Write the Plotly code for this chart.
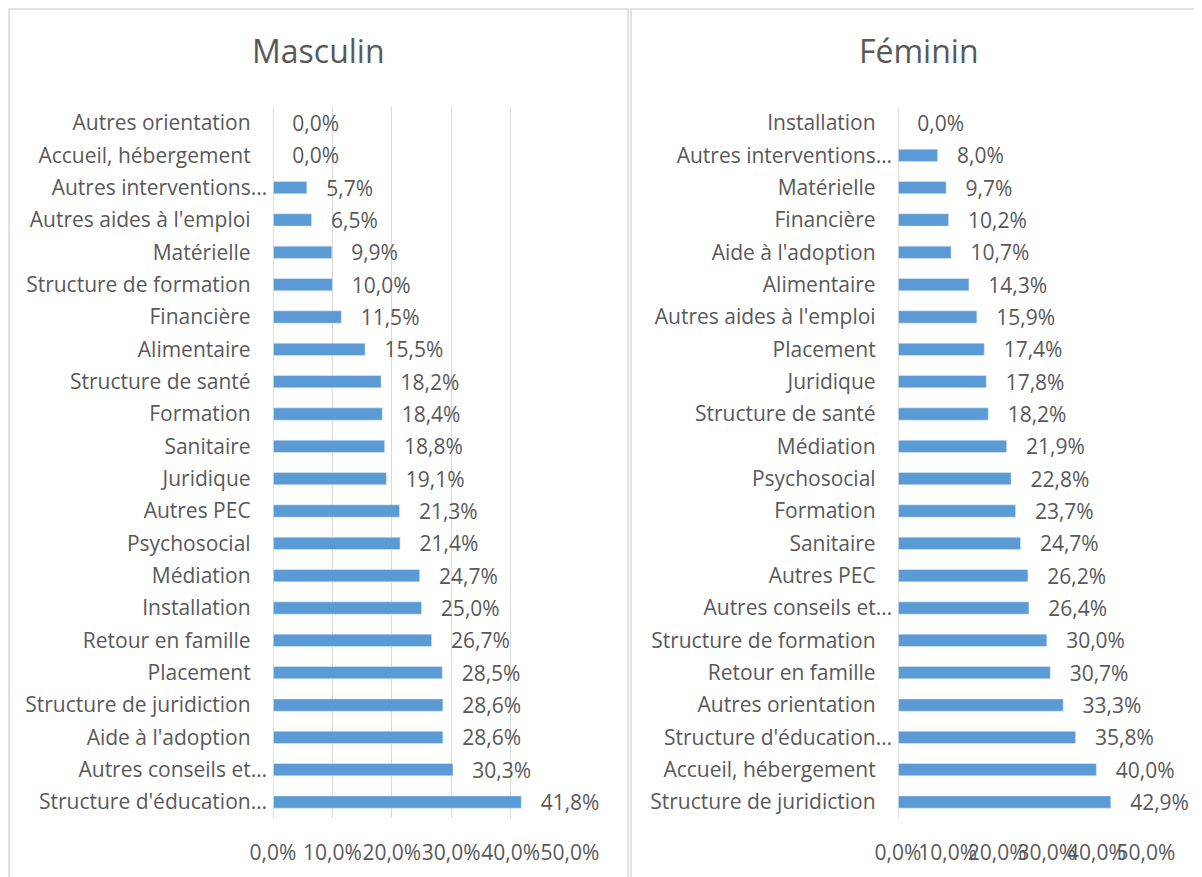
import plotly.graph_objects as go

# Masculin (top to bottom)
cat_m = ["Autres orientation", "Accueil, hébergement", "Autres interventions…",
         "Autres aides à l'emploi", "Matérielle", "Structure de formation",
         "Financière", "Alimentaire", "Structure de santé", "Formation",
         "Sanitaire", "Juridique", "Autres PEC", "Psychosocial", "Médiation",
         "Installation", "Retour en famille", "Placement",
         "Structure de juridiction", "Aide à l'adoption", "Autres conseils et…",
         "Structure d'éducation…"]
val_m = [0.0, 0.0, 5.7, 6.5, 9.9, 10.0, 11.5, 15.5, 18.2, 18.4, 18.8, 19.1,
         21.3, 21.4, 24.7, 25.0, 26.7, 28.5, 28.6, 28.6, 30.3, 41.8]

# Féminin (top to bottom)
cat_f = ["Installation", "Autres interventions…", "Matérielle", "Financière",
         "Aide à l'adoption", "Alimentaire", "Autres aides à l'emploi",
         "Placement", "Juridique", "Structure de santé", "Médiation",
         "Psychosocial", "Formation", "Sanitaire", "Autres PEC",
         "Autres conseils et…", "Structure de formation", "Retour en famille",
         "Autres orientation", "Structure d'éducation…", "Accueil, hébergement",
         "Structure de juridiction"]
val_f = [0.0, 8.0, 9.7, 10.2, 10.7, 14.3, 15.9, 17.4, 17.8, 18.2, 21.9, 22.8,
         23.7, 24.7, 26.2, 26.4, 30.0, 30.7, 33.3, 35.8, 40.0, 42.9]

x_ticks = [0, 10, 20, 30, 40, 50]

# page body has an 8px margin, so the figure is shifted by 8px
OFF = 8
W, H = 1202 - OFF, 877 - OFF
BAR = "#5B9BD5"
TXT = "#595959"
GRID = "#D9D9D9"
FONT = "Open Sans"
FS = 21


def px(x):
    return (x - OFF) / W


def py(y):
    return (H - (y - OFF)) / H


def fmt(v):
    return f"{v:.1f}%".replace(".", ",")


def ylabel(c):
    # truncated labels sit closer to the axis, like in Excel
    return c if c.endswith("…") else c + "\u00a0\u00a0\u00a0"


fig = go.Figure()
for cats, vals, xa, ya in [(cat_m, val_m, "x", "y"), (cat_f, val_f, "x2", "y2")]:
    fig.add_trace(go.Bar(
        x=[v / 100 for v in vals], y=cats, orientation="h",
        marker_color=BAR, width=0.38,
        text=["\u00a0\u00a0\u00a0" + fmt(v) for v in vals],
        textposition="outside", constraintext="none",
        textfont=dict(size=FS, color=TXT, family=FONT), cliponaxis=False,
        xaxis=xa, yaxis=ya, showlegend=False))

ydom = [py(818.2), py(106.8)]
xcommon = dict(range=[0, 0.5], tickvals=[t / 100 for t in x_ticks],
               ticktext=[fmt(t) for t in x_ticks], ticks="", tickangle=0,
               tickfont=dict(size=FS, color=TXT, family=FONT),
               ticklabelstandoff=20, zeroline=False, showline=False,
               automargin=False, fixedrange=True)
ycommon = dict(autorange="reversed", ticks="", showline=False, showgrid=False,
               tickfont=dict(size=FS, color=TXT, family=FONT),
               ticklabelstandoff=5, automargin=False)

fig.update_layout(
    width=W, height=H,
    margin=dict(l=0, r=0, t=0, b=0),
    paper_bgcolor="white", plot_bgcolor="white",
    xaxis=dict(domain=[px(273), px(570)], anchor="y", showgrid=True,
               gridcolor=GRID, gridwidth=1, **xcommon),
    yaxis=dict(domain=ydom, anchor="x", tickvals=cat_m,
               ticktext=[ylabel(c) for c in cat_m], **ycommon),
    xaxis2=dict(domain=[px(898), px(1146)], anchor="y2", showgrid=False,
                **xcommon),
    yaxis2=dict(domain=ydom, anchor="x2", tickvals=cat_f,
                ticktext=[ylabel(c) for c in cat_f], **ycommon),
    font=dict(family=FONT, color=TXT),
    shapes=[
        dict(type="rect", xref="paper", yref="paper",
             x0=px(9), x1=px(628), y0=-0.05, y1=py(9),
             line=dict(color=GRID, width=1.5)),
        dict(type="rect", xref="paper", yref="paper",
             x0=px(631), x1=1.05, y0=-0.05, y1=py(9),
             line=dict(color=GRID, width=1.5)),
        # zero lines
        dict(type="line", xref="x", yref="paper", x0=0, x1=0,
             y0=ydom[0], y1=ydom[1], line=dict(color=GRID, width=1.5)),
        dict(type="line", xref="x2", yref="paper", x0=0, x1=0,
             y0=ydom[0], y1=ydom[1], line=dict(color=GRID, width=1.5)),
    ],
    annotations=[
        dict(text="Masculin", xref="paper", yref="paper", x=px(318),
             y=py(50), xanchor="center", yanchor="middle", showarrow=False,
             font=dict(size=32, color=TXT, family=FONT)),
        dict(text="Féminin", xref="paper", yref="paper", x=px(919),
             y=py(50), xanchor="center", yanchor="middle", showarrow=False,
             font=dict(size=32, color=TXT, family=FONT)),
    ],
)

fig.write_html("out.html")
